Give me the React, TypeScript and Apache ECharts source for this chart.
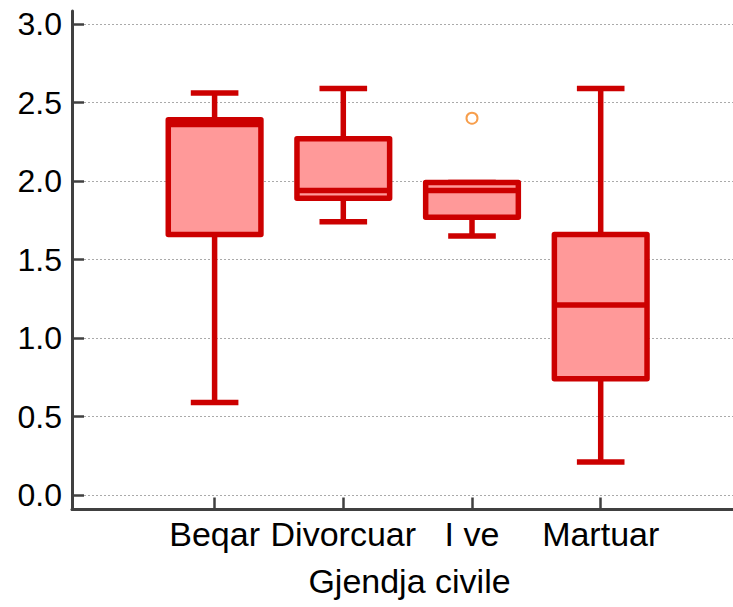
import React, { useEffect, useRef } from "react";
import * as echarts from "echarts";

// ---- data ----
const categories = ["Beqar", "Divorcuar", "I ve", "Martuar"];
const whiskerLow = [0.59, 1.74, 1.65, 0.21];
const q1Values = [1.66, 1.89, 1.77, 0.74];
const medianValues = [2.36, 1.94, 1.94, 1.21];
const q3Values = [2.39, 2.27, 1.99, 1.66];
const whiskerHigh = [2.56, 2.59, 1.99, 2.59];
const outlierCategories = ["I ve"];
const outlierValues = [2.4];
const yTickValues = [0, 0.5, 1, 1.5, 2, 2.5, 3];
const xAxisTitle = "Gjendja civile";

const FONT = "'Liberation Sans', Arial, sans-serif";
const AXIS_COLOR = "#404040";
const BOX_STROKE = "#CC0000";
const BOX_FILL = "#FF9999";
const BOX_HALF = 0.36;
const CAP_HALF = 0.185;
const LW = 5.5;

export default function App() {
  const ref = useRef<HTMLDivElement>(null);

  useEffect(() => {
    if (!ref.current) return;
    const chart = echarts.init(ref.current, null, { renderer: "svg" });

    const positions = categories.map((_, i) => i + 1);
    const boxData = categories.map((_, i) => [
      positions[i],
      whiskerLow[i],
      q1Values[i],
      medianValues[i],
      q3Values[i],
      whiskerHigh[i],
    ]);
    const outlierData = outlierCategories.map((c, i) => [
      categories.indexOf(c) + 1,
      outlierValues[i],
    ]);

    const option: any = {
      animation: false,
      backgroundColor: "#ffffff",
      grid: { left: 72, right: 0, top: 11, bottom: 97.5, containLabel: false },
      xAxis: {
        type: "value",
        min: -0.108,
        max: 5.028,
        splitLine: { show: false },
        axisLine: { show: true, onZero: false, lineStyle: { color: AXIS_COLOR, width: 3 } },
        axisTick: {
          show: true,
          inside: true,
          length: 12,
          customValues: positions,
          lineStyle: { color: AXIS_COLOR, width: 2.5 },
        },
        axisLabel: {
          customValues: positions,
          formatter: (v: number) => categories[Math.round(v) - 1] ?? "",
          fontFamily: FONT,
          fontSize: 34,
          color: "#000",
          margin: 7,
        },
        name: xAxisTitle,
        nameLocation: "middle",
        nameGap: 54,
        nameTextStyle: { fontFamily: FONT, fontSize: 34, color: "#000", padding: [0, 0, 0, 14] },
      },
      yAxis: {
        type: "value",
        min: -0.092,
        max: 3.083,
        axisLine: { show: true, onZero: false, lineStyle: { color: AXIS_COLOR, width: 3 } },
        axisTick: {
          show: true,
          inside: true,
          length: 12,
          customValues: yTickValues,
          lineStyle: { color: AXIS_COLOR, width: 2.5 },
        },
        axisLabel: {
          customValues: yTickValues,
          formatter: (v: number) => v.toFixed(1),
          fontFamily: FONT,
          fontSize: 32,
          color: "#000",
          margin: 10,
        },
        splitLine: {
          show: true,
          lineStyle: { color: "#aaaaaa", width: 1, type: [2, 2] },
        },
      },
      series: [
        {
          type: "custom",
          data: boxData,
          encode: { x: 0, y: [1, 2, 3, 4, 5] },
          renderItem: (params: any, api: any) => {
            const x = api.value(0);
            const lo = api.coord([x, api.value(1)]);
            const q1 = api.coord([x, api.value(2)]);
            const med = api.coord([x, api.value(3)]);
            const q3 = api.coord([x, api.value(4)]);
            const hi = api.coord([x, api.value(5)]);
            const half = api.size([BOX_HALF, 0])[0];
            const cap = api.size([CAP_HALF, 0])[0];
            const cx = lo[0];
            const lineStyle = { stroke: BOX_STROKE, lineWidth: LW, fill: null };
            return {
              type: "group",
              children: [
                {
                  type: "line",
                  shape: { x1: cx, y1: q3[1], x2: cx, y2: hi[1] },
                  style: lineStyle,
                },
                {
                  type: "line",
                  shape: { x1: cx, y1: q1[1], x2: cx, y2: lo[1] },
                  style: lineStyle,
                },
                {
                  type: "line",
                  shape: { x1: cx - cap, y1: hi[1], x2: cx + cap, y2: hi[1] },
                  style: lineStyle,
                },
                {
                  type: "line",
                  shape: { x1: cx - cap, y1: lo[1], x2: cx + cap, y2: lo[1] },
                  style: lineStyle,
                },
                {
                  type: "rect",
                  shape: { x: cx - half, y: q3[1], width: half * 2, height: q1[1] - q3[1] },
                  style: { fill: BOX_FILL, stroke: BOX_STROKE, lineWidth: LW, lineJoin: "round" },
                },
                {
                  type: "line",
                  shape: { x1: cx - half, y1: med[1], x2: cx + half, y2: med[1] },
                  style: lineStyle,
                },
              ],
            };
          },
        },
        {
          type: "scatter",
          data: outlierData,
          symbol: "emptyCircle",
          symbolSize: 11,
          itemStyle: { color: "#F5861F", borderColor: "#F5861F", borderWidth: 2 },
        },
      ],
    };

    chart.setOption(option);
    return () => chart.dispose();
  }, []);

  return (
    <div
      ref={ref}
      style={{ position: "absolute", left: 0, top: 0, width: 733, height: 607 }}
    />
  );
}
